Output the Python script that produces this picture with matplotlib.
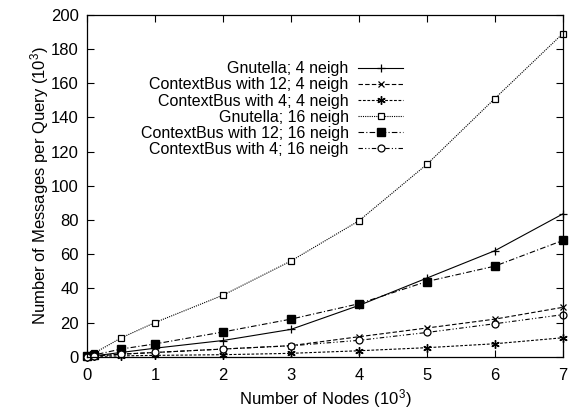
import matplotlib
matplotlib.use('Agg')
import matplotlib.pyplot as plt

plt.rcParams['font.family'] = ['Liberation Sans', 'DejaVu Sans']
plt.rcParams['mathtext.fontset'] = 'custom'
plt.rcParams['mathtext.rm'] = 'Liberation Sans'
plt.rcParams['mathtext.it'] = 'Liberation Sans'
plt.rcParams['font.size'] = 12

nodes = [0, 0.1, 0.5, 1, 2, 3, 4, 5, 6, 7]

gnutella_4 = [0.1, 0.5, 2.5, 5, 9.5, 16, 30, 46, 62, 83.5]
cb12_4 = [0.1, 0.4, 1.5, 2.5, 4.5, 6.5, 11.7, 16.8, 22, 28.9]
cb4_4 = [0.05, 0.2, 0.5, 0.8, 1.2, 2, 3.5, 5.3, 7.6, 11.1]
gnutella_16 = [0.3, 2, 11, 20, 36, 56, 79.5, 112.5, 151, 189]
cb12_16 = [0.2, 1, 4.5, 7.5, 14.5, 22, 31, 44, 53, 68]
cb4_16 = [0.1, 0.4, 1.5, 2.5, 4.5, 6.4, 9.6, 14.2, 19.3, 24.6]

labels = ['Gnutella; 4 neigh', 'ContextBus with 12; 4 neigh',
          'ContextBus with 4; 4 neigh', 'Gnutella; 16 neigh',
          'ContextBus with 12; 16 neigh', 'ContextBus with 4; 16 neigh']

fig = plt.figure(figsize=(5.69, 4.11), dpi=100)
ax = fig.add_axes([0.153, 0.132, 0.836, 0.832])

lw = 0.8
kw = dict(color='black', lw=lw, clip_on=False)
ax.plot(nodes, gnutella_4, ls='-', marker='+', ms=6, mew=0.9, label=labels[0], **kw)
ax.plot(nodes, cb12_4, ls=(0, (4, 2)), marker='x', ms=5, mew=0.9, label=labels[1], **kw)
ax.plot(nodes, cb4_4, ls=(0, (2.5, 1.5)), marker=(6, 2, 0), ms=6, mew=1.0, label=labels[2], **kw)
ax.plot(nodes, gnutella_16, ls=(0, (1, 1)), marker='s', ms=5, mfc='white', mew=0.9, label=labels[3], **kw)
ax.plot(nodes, cb12_16, ls=(0, (5, 2, 1, 2)), marker='s', ms=6, mfc='black', label=labels[4], **kw)
ax.plot(nodes, cb4_16, ls=(0, (4, 2, 1, 2, 1, 2)), marker='o', ms=5, mfc='white', mew=0.9, label=labels[5], **kw)

ax.set_xlim(0, 7)
ax.set_ylim(0, 200)
ax.set_xticks(range(0, 8))
ax.set_yticks(range(0, 201, 20))
ax.tick_params(direction='in', top=True, right=True, length=5, width=0.8, pad=6)
ax.tick_params(axis='x', pad=8)
for s in ax.spines.values():
    s.set_linewidth(0.9)

ax.set_xlabel('Number of Nodes (10$^3$)', labelpad=3)
ax.set_ylabel('Number of Messages per Query (10$^3$)', labelpad=0)

ax.legend(loc='upper right', bbox_to_anchor=(0.664, 0.864), frameon=False,
          markerfirst=False, handlelength=2.8, handletextpad=0.6,
          labelspacing=0.07, borderpad=0, borderaxespad=0, fontsize=11.5)

fig.savefig('out.png', dpi=100)
